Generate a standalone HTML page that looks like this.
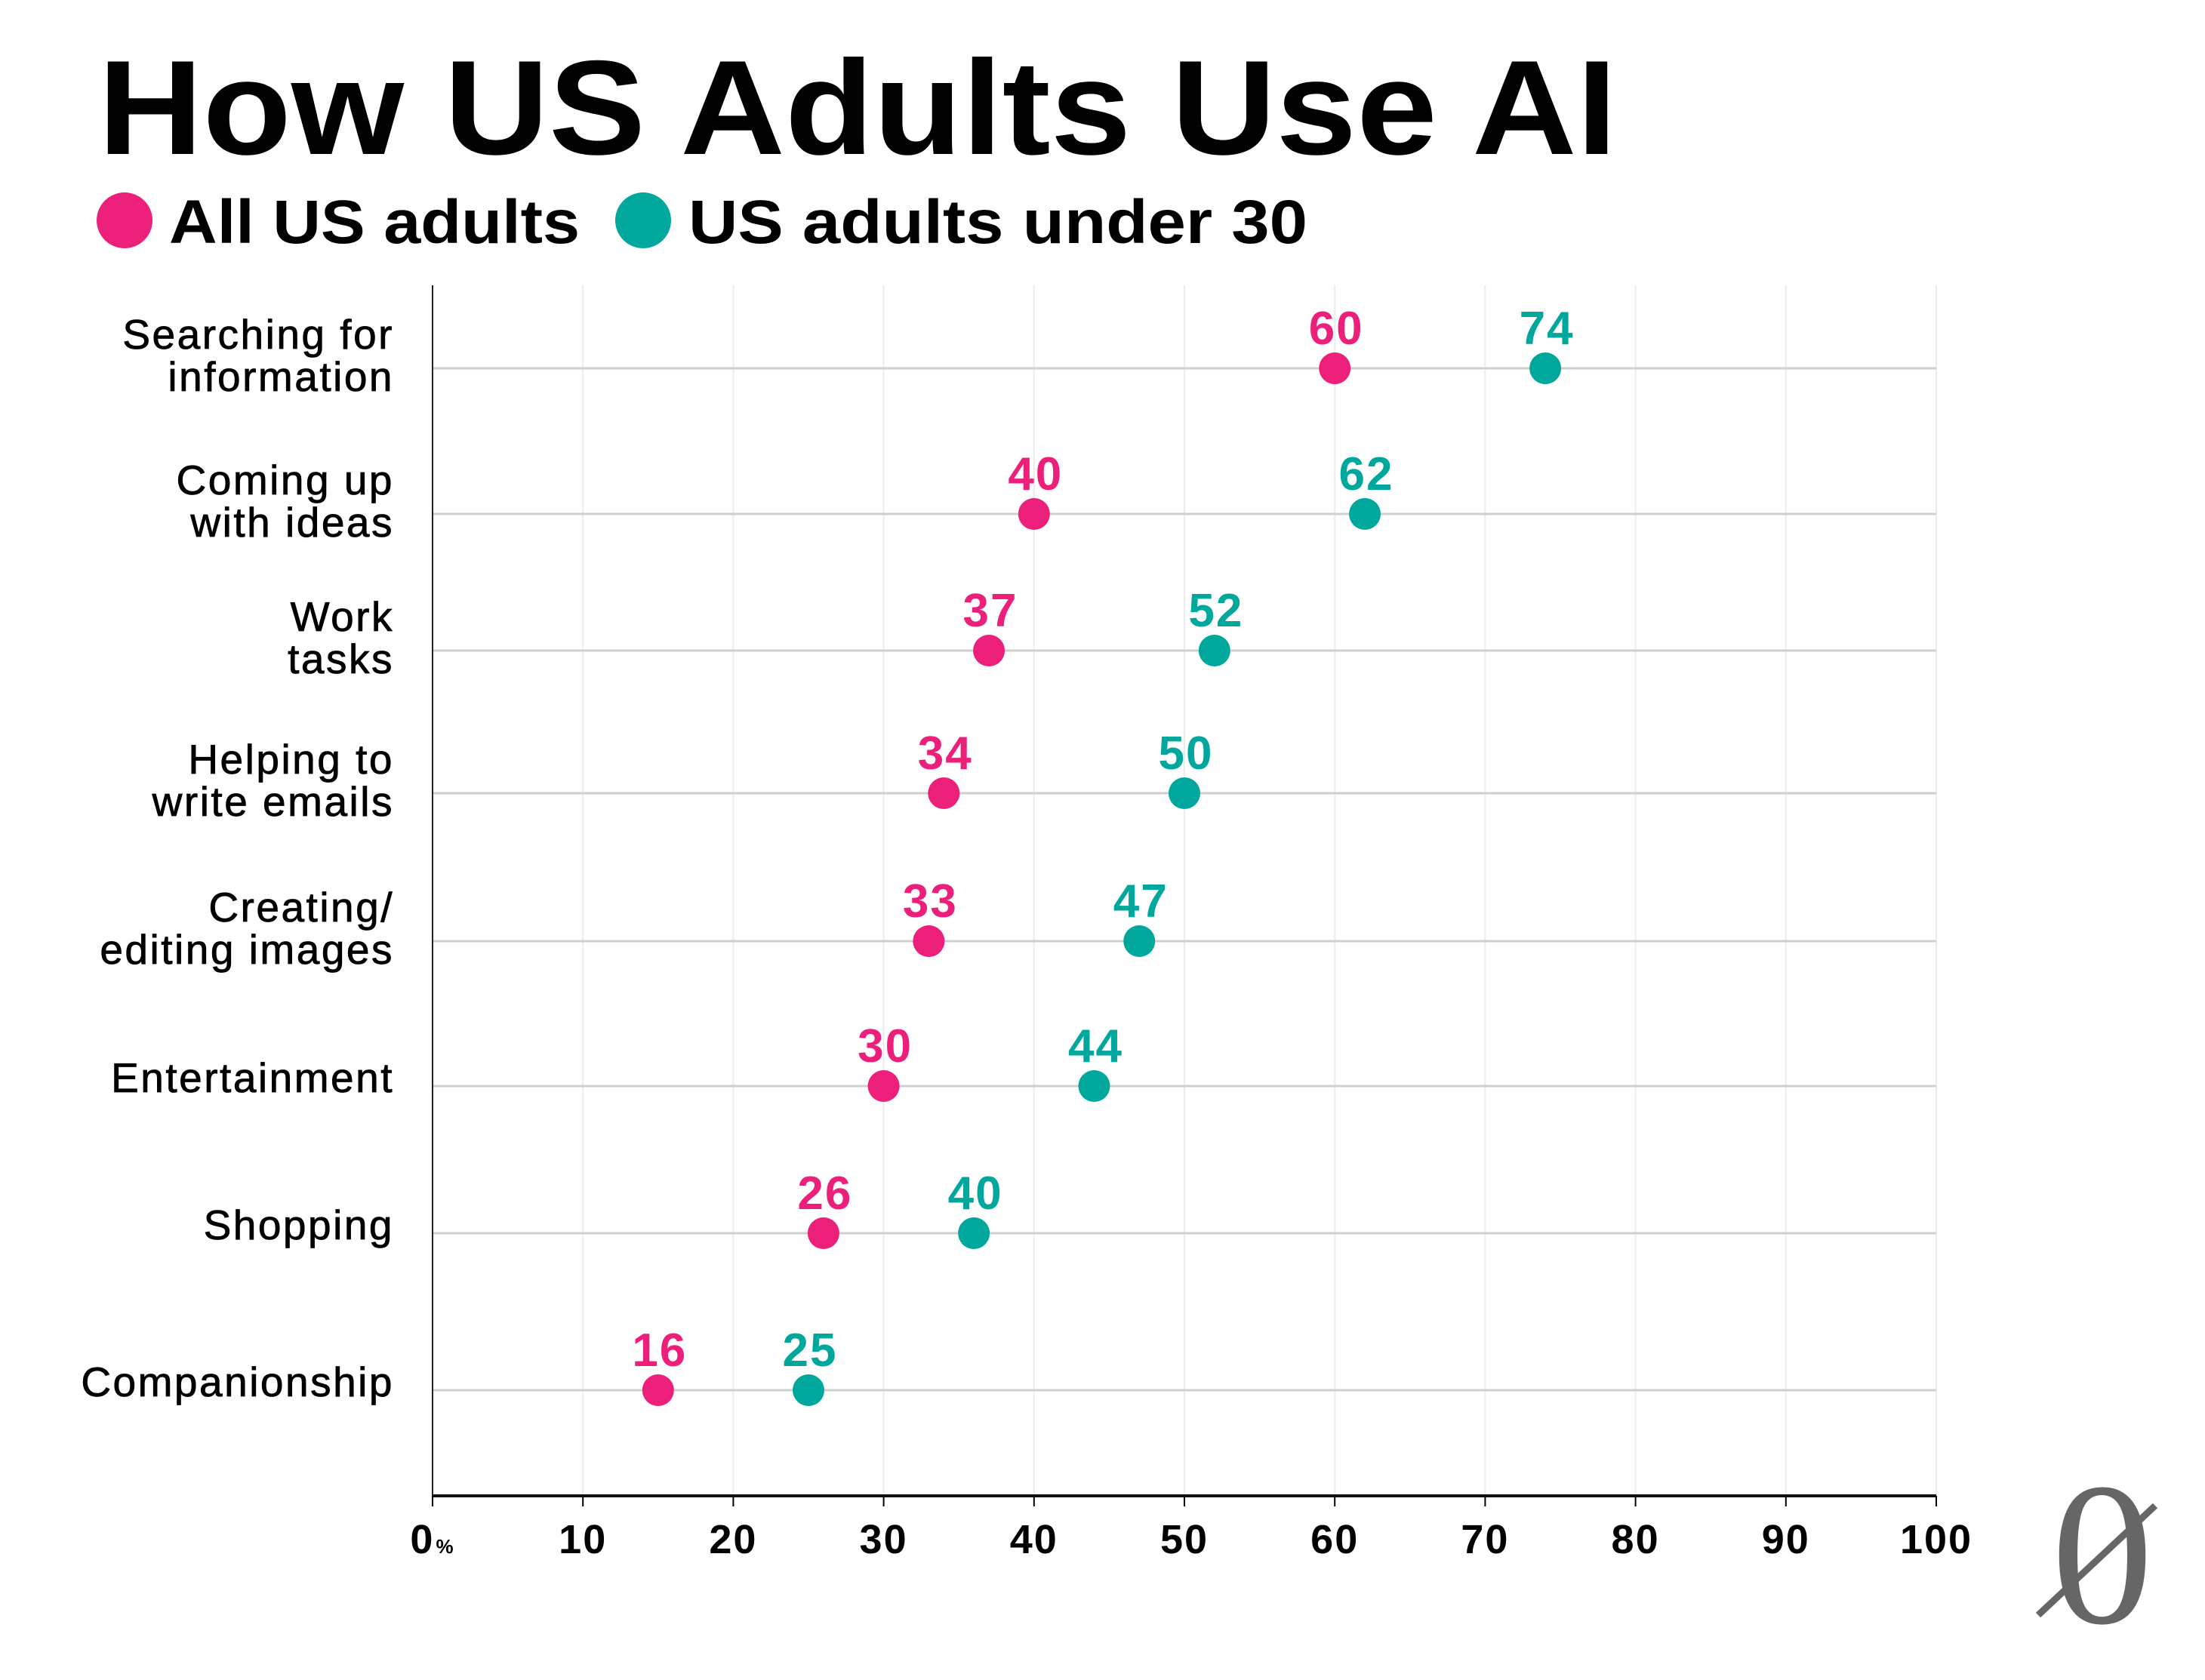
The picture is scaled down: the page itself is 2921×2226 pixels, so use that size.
<!DOCTYPE html>
<html><head><meta charset="utf-8"><style>
html,body{margin:0;padding:0;background:#fff;width:2921px;height:2226px;overflow:hidden}
svg{display:block}
text{font-family:"Liberation Sans",sans-serif}
</style></head><body>
<svg id="chart" width="2921" height="2226" viewBox="0 0 2921 2226" xmlns="http://www.w3.org/2000/svg">
<text x="130" y="204" font-size="178" font-weight="900" fill="#000" textLength="2012" lengthAdjust="spacingAndGlyphs" style="font-family:'Liberation Sans',sans-serif;font-weight:bold">How US Adults Use AI</text>
<g>
<circle cx="165" cy="292" r="37" fill="#EC1F7A"/>
<text x="224" y="322" font-size="82" font-weight="bold" fill="#000" textLength="544" lengthAdjust="spacingAndGlyphs">All US adults</text>
<circle cx="852" cy="292" r="37" fill="#00A79D"/>
<text x="912" y="322" font-size="82" font-weight="bold" fill="#000" textLength="820" lengthAdjust="spacingAndGlyphs">US adults under 30</text>
</g>
<g id="grid"></g>
<g id="rows"></g>
<g id="axis"></g>
<g id="marks"></g>
<g>
<text x="2785" y="2150" font-size="270" fill="#666" text-anchor="middle" style="font-family:'Liberation Serif',serif">0</text>
<line x1="2700" y1="2140" x2="2855" y2="1995" stroke="#666" stroke-width="9"/>
</g>
</svg>
<script>
const categories = [["Searching for","information"],["Coming up","with ideas"],["Work","tasks"],["Helping to","write emails"],["Creating/","editing images"],["Entertainment"],["Shopping"],["Companionship"]];
const allAdults = [60,40,37,34,33,30,26,15];
const allAdultsLabels = [60,40,37,34,33,30,26,16];
const under30 = [74,62,52,50,47,44,36,25];
const under30Labels = [74,62,52,50,47,44,40,25];
const xTicks = [0,10,20,30,40,50,60,70,80,90,100];
const rowY = [488,681,862,1051,1247,1439,1634,1842];

const NS = "http://www.w3.org/2000/svg";
const X0 = 573, X1 = 2565, AXIS_Y = 1982, TOP = 378;
function xScale(v){ return X0 + (X1 - X0) * v / 100; }
function mk(tag, attrs, parent){ const e = document.createElementNS(NS, tag); for (const k in attrs) e.setAttribute(k, attrs[k]); parent.appendChild(e); return e; }
const grid = document.getElementById('grid'), rows = document.getElementById('rows'), axis = document.getElementById('axis'), marks = document.getElementById('marks');

xTicks.forEach(t => {
  if (t > 0) {
    const g = mk('line', {x1: xScale(t), x2: xScale(t), y1: TOP, y2: AXIS_Y, stroke: '#ececec', 'stroke-width': 2}, grid);
    
    
  }
  const tk = mk('line', {x1: xScale(t), x2: xScale(t), y1: AXIS_Y, y2: AXIS_Y + 14, stroke: '#000', 'stroke-width': 2}, axis);
  
  
  const lb = mk('text', {x: xScale(t), y: 2058, 'font-size': 54, 'font-weight': 'bold', 'text-anchor': 'middle', fill: '#000', 'letter-spacing': 2}, axis);
  
  
  if (t === 0) {
    lb.textContent = '0';
    const ts = mk('tspan', {'font-size': 26, dx: 2}, lb);
    ts.textContent = '%';
  } else lb.textContent = t;
});
const yAx = mk('line', {x1: X0, x2: X0, y1: TOP, y2: AXIS_Y, stroke: '#222', 'stroke-width': 2}, axis);


const xAx = mk('line', {x1: X0, x2: X1, y1: AXIS_Y, y2: AXIS_Y, stroke: '#111', 'stroke-width': 4}, axis);



categories.forEach((lines, i) => {
  const y = rowY[i];
  const rl = mk('line', {x1: X0, x2: X1, y1: y, y2: y, stroke: '#cfcfcf', 'stroke-width': 3}, rows);
  
  
  const lbl = mk('text', {x: 522, 'font-size': 55, 'text-anchor': 'end', fill: '#000', 'letter-spacing': 2.5, stroke: '#000', 'stroke-width': 0.8}, rows);
  
  
  const base = lines.length === 2 ? y - 26 : y + 8;
  lines.forEach((ln, j) => {
    const ts = mk('tspan', {x: 522, y: base + j * 56}, lbl);
    ts.textContent = ln;
  });

  const series = [[allAdults, allAdultsLabels, '#EC1F7A', 'all-adults'], [under30, under30Labels, '#00A79D', 'under-30']];
  series.forEach(([vals, labs, col, nm]) => {
    const cx = xScale(vals[i]);
    const c = mk('circle', {cx: cx, cy: y, r: 21, fill: col}, marks);
    
    
    const v = mk('text', {x: cx + 2, y: y - 32, 'font-size': 62, 'font-weight': 'bold', 'text-anchor': 'middle', fill: col, 'letter-spacing': 2}, marks);
    
    
    v.textContent = labs[i];
  });
});
</script>
</body></html>
